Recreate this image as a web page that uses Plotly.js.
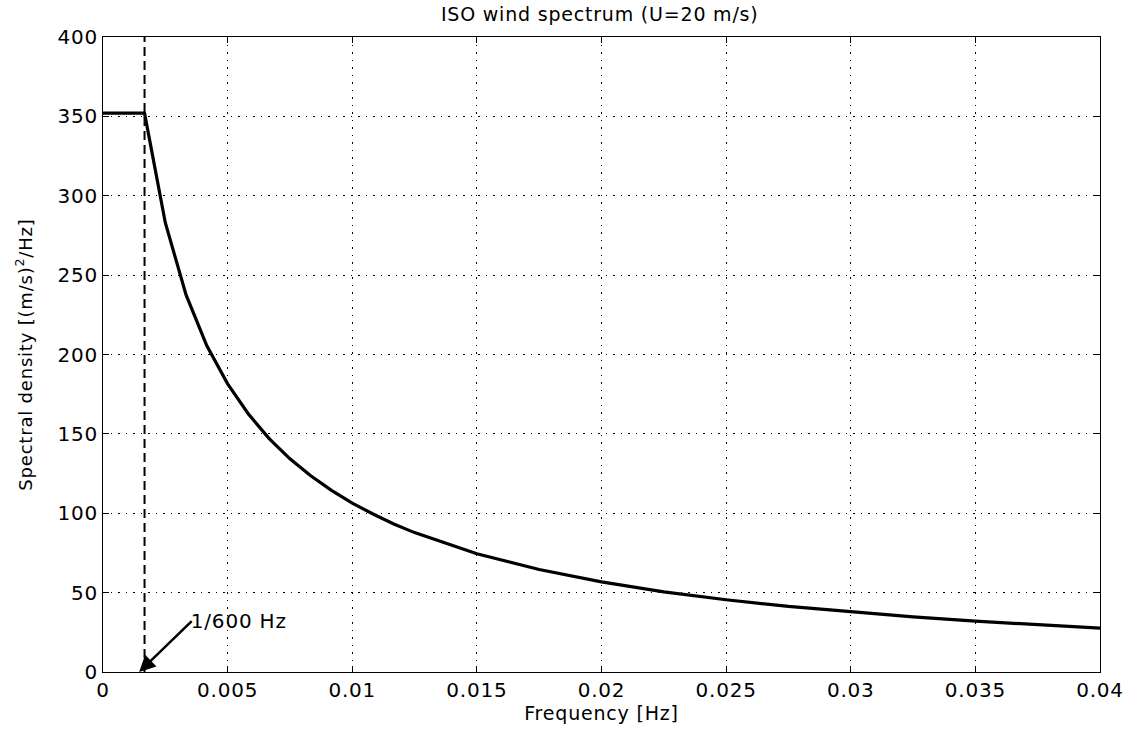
<!DOCTYPE html>
<html>
<head>
<meta charset="utf-8">
<script src="https://cdn.plot.ly/plotly-3.0.1.min.js"></script>
<style>
html,body{margin:0;padding:0;background:#fff;}
#chart{width:1138px;height:731px;}
#chart text{letter-spacing:0.8px;}
</style>
</head>
<body>
<div id="chart"></div>
<script>
// Data
const freq = [0, 0.0016667, 0.0025, 0.0033333, 0.0041667, 0.005, 0.0058333, 0.0066667, 0.0075, 0.0083333, 0.0091667, 0.01, 0.0108333, 0.0116667, 0.0125, 0.015, 0.0175, 0.02, 0.0225, 0.025, 0.0275, 0.03, 0.0325, 0.035, 0.0375, 0.04];
const density = [352, 352, 283, 237.5, 205.5, 181.5, 162.5, 147, 134.3, 123.6, 114.4, 106.4, 99.5, 93.2, 87.8, 74.5, 64.6, 56.8, 50.5, 45.5, 41.3, 37.8, 34.7, 32.0, 29.8, 27.7];
const cutoffFreq = [1/600, 1/600];
const cutoffLine = [0, 400];
const arrowTip = {x: 0.00145, y: 0};
const arrowTail = {x: 0.00356, y: 32};
const annotationText = "1/600 Hz";
const xTicks = [0, 0.005, 0.01, 0.015, 0.02, 0.025, 0.03, 0.035, 0.04];
const xTickLabels = ["0", "0.005", "0.01", "0.015", "0.02", "0.025", "0.03", "0.035", "0.04"];
const yTicks = [0, 50, 100, 150, 200, 250, 300, 350, 400];

const fontFam = "DejaVu Sans, Liberation Sans, Arial, sans-serif";

const traces = [
  {x: cutoffFreq, y: cutoffLine, mode: 'lines', line: {color: '#000', width: 2, dash: '9px,5px'}, hoverinfo: 'skip'},
  {x: freq, y: density, mode: 'lines', line: {color: '#000', width: 3.2}}
];

const axisCommon = {
  showline: true, linecolor: '#000', linewidth: 1, mirror: 'ticks',
  ticks: 'inside', ticklen: 6, tickcolor: '#000', tickwidth: 1,
  showgrid: true, gridcolor: '#000', gridwidth: 1, griddash: '1.5px,6px',
  zeroline: false,
  tickfont: {family: fontFam, size: 20, color: '#000'}
};

const layout = {
  width: 1138, height: 731,
  margin: {l: 103, r: 38, t: 37, b: 59},
  paper_bgcolor: '#fff', plot_bgcolor: '#fff',
  showlegend: false,
  title: {text: 'ISO wind spectrum (U=20 m/s)', font: {family: fontFam, size: 19, color: '#000'}, x: 0.527, xanchor: 'center', y: 0.981, yanchor: 'middle'},
  xaxis: Object.assign({}, axisCommon, {
    range: [0, 0.04], tickvals: xTicks, ticktext: xTickLabels,
    title: {text: 'Frequency [Hz]', font: {family: fontFam, size: 19, color: '#000'}, standoff: 0}
  }),
  yaxis: Object.assign({}, axisCommon, {
    range: [0, 400], tickvals: yTicks, ticktext: yTicks.map(String),
    title: {text: 'Spectral density [(m/s)<sup>2</sup>/Hz]', font: {family: fontFam, size: 18, color: '#000'}, standoff: 22}
  }),
  annotations: [
    {x: arrowTip.x, y: arrowTip.y, ax: arrowTail.x, ay: arrowTail.y, axref: 'x', ayref: 'y', xref: 'x', yref: 'y',
     text: annotationText, xanchor: 'left', yanchor: 'middle', showarrow: true, arrowhead: 2, arrowsize: 1.3, arrowwidth: 2.5, arrowcolor: '#000',
     font: {family: fontFam, size: 20, color: '#000'}}
  ]
};

Plotly.newPlot('chart', traces, layout, {displayModeBar: false, staticPlot: true});
</script>
</body>
</html>
